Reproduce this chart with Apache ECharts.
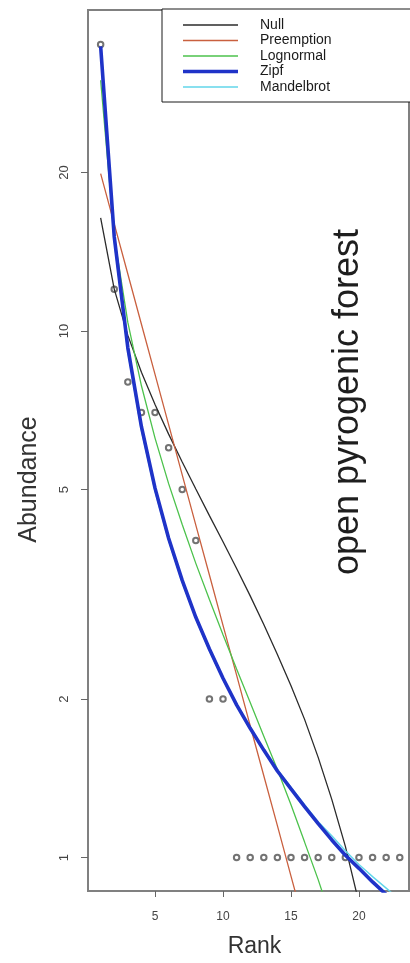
<!DOCTYPE html>
<html>
<head>
<meta charset="utf-8">
<script src="https://cdn.jsdelivr.net/npm/echarts@6/dist/echarts.min.js"></script>
<style>
  html, body { margin: 0; padding: 0; background: #fff; }
  #chart { width: 410px; height: 963px; }
</style>
</head>
<body>
<div id="chart"></div>
<script>
// Rank-abundance diagram with fitted RAD models (log abundance axis)
const ranks = [1, 2, 3, 4, 5, 6, 7, 8, 9, 10, 11, 12, 13, 14, 15, 16, 17, 18, 19, 20, 21, 22, 23];
const abundance = [35, 12, 8, 7, 7, 6, 5, 4, 2, 2, 1, 1, 1, 1, 1, 1, 1, 1, 1, 1, 1, 1, 1];

// fitted abundances of each model, one value per rank
const fitNull = [16.40, 12.01, 9.81, 8.35, 7.25, 6.37, 5.64, 5.01, 4.46, 3.98, 3.54, 3.14, 2.77, 2.43, 2.12, 1.83, 1.55, 1.29, 1.05, 0.82, 0.60, 0.39, 0.19];
const fitPreemption = [19.90, 15.98, 12.83, 10.30, 8.27, 6.64, 5.33, 4.28, 3.44, 2.76, 2.22, 1.78, 1.43, 1.15, 0.922, 0.741, 0.595, 0.478, 0.383, 0.308, 0.247, 0.199, 0.159];
const fitLognormal = [29.93, 15.12, 10.38, 7.87, 6.26, 5.13, 4.29, 3.62, 3.09, 2.65, 2.28, 1.97, 1.70, 1.47, 1.26, 1.07, 0.908, 0.759, 0.622, 0.494, 0.375, 0.257, 0.130];
const fitZipf = [34.70, 15.10, 9.29, 6.58, 5.03, 4.04, 3.36, 2.86, 2.49, 2.19, 1.95, 1.76, 1.60, 1.46, 1.35, 1.25, 1.16, 1.08, 1.01, 0.954, 0.899, 0.851, 0.806];
const fitMandelbrot = [34.20, 14.80, 9.12, 6.47, 4.96, 4.00, 3.33, 2.84, 2.47, 2.18, 1.95, 1.76, 1.60, 1.47, 1.36, 1.26, 1.17, 1.10, 1.03, 0.97, 0.92, 0.875, 0.832];

const modelNames = ['Null', 'Preemption', 'Lognormal', 'Zipf', 'Mandelbrot'];
const xTicks = [5, 10, 15, 20];
const yTicks = [1, 2, 5, 10, 20];
const siteLabel = 'open pyrogenic forest';

const FONT = '"Liberation Sans", Arial, Helvetica, sans-serif';
const X_MIN = 0.07, X_MAX = 23.68;
const Y_MIN = 0.864, Y_MAX = 40.7;

const modelStyles = {
  Null:       { color: '#2b2b2b', width: 1.3, icon: 1.3 },
  Preemption: { color: '#c9603f', width: 1.3, icon: 1.6 },
  Lognormal:  { color: '#4cc24c', width: 1.3, icon: 1.6 },
  Zipf:       { color: '#1f33c8', width: 3.6, icon: 3.6 },
  Mandelbrot: { color: '#62d6ea', width: 1.4, icon: 1.6 }
};
const modelFits = {
  Null: fitNull, Preemption: fitPreemption, Lognormal: fitLognormal,
  Zipf: fitZipf, Mandelbrot: fitMandelbrot
};
// Mandelbrot is painted beneath Zipf
const drawOrder = ['Null', 'Preemption', 'Lognormal', 'Mandelbrot', 'Zipf'];

const pairs = arr => ranks.map((r, i) => [r, arr[i]]);
const yTickPos = yTicks.map(v => Math.log10(v));

const chart = echarts.init(document.getElementById('chart'), null, { renderer: 'canvas' });

const option = {
  animation: false,
  backgroundColor: '#ffffff',
  textStyle: { fontFamily: FONT },
  grid: {
    left: 88, right: 1, top: 10, bottom: 72,
    show: true, borderColor: '#808080', borderWidth: 2,
    backgroundColor: 'transparent',
    containLabel: false, outerBoundsMode: 'none'
  },
  legend: {
    orient: 'vertical',
    left: 162, top: 9,
    padding: [9, 200, 8, 21],
    backgroundColor: '#ffffff',
    borderColor: '#1a1a1a', borderWidth: 1,
    itemWidth: 55, itemHeight: 4, itemGap: 1.5,
    itemStyle: { borderWidth: 0 },
    selectedMode: false,
    textStyle: { fontFamily: FONT, fontSize: 14, lineHeight: 14, color: '#1a1a1a', padding: [0, 0, 0, 17] },
    data: modelNames.map(n => ({
      name: n,
      icon: 'path://M0 0H55V' + modelStyles[n].icon + 'H0Z',
      itemStyle: { color: modelStyles[n].color, borderWidth: 0 }
    }))
  },
  xAxis: {
    type: 'value', min: X_MIN, max: X_MAX,
    name: 'Rank', nameLocation: 'middle', nameGap: 44,
    nameTextStyle: { fontFamily: FONT, fontSize: 23, color: '#333', padding: [0, 0, 0, 12] },
    axisLine: { show: false, onZero: false },
    splitLine: { show: false },
    axisTick: { show: true, length: 6, customValues: xTicks, lineStyle: { color: '#666', width: 1 } },
    axisLabel: { customValues: xTicks, margin: 20, fontSize: 12, color: '#444', fontFamily: FONT }
  },
  yAxis: [
    {
      type: 'log', logBase: 10, min: Y_MIN, max: Y_MAX,
      axisLine: { show: false, onZero: false }, axisTick: { show: false },
      axisLabel: { show: false }, splitLine: { show: false }
    },
    {
      // tick/label scale in log10 units, aligned with the log axis above
      type: 'value', position: 'left',
      min: Math.log10(Y_MIN), max: Math.log10(Y_MAX),
      name: 'Abundance', nameLocation: 'middle', nameGap: 46,
      nameTextStyle: { fontFamily: FONT, fontSize: 25, color: '#333', padding: [0, 58, 0, 0] },
      axisLine: { show: false, onZero: false }, splitLine: { show: false },
      axisTick: { show: true, length: 7, customValues: yTickPos, lineStyle: { color: '#666', width: 1 } },
      axisLabel: {
        customValues: yTickPos, rotate: 90, margin: 17,
        fontSize: 13, color: '#444', fontFamily: FONT,
        formatter: v => {
          const hit = yTicks.find(t => Math.abs(Math.log10(t) - v) < 1e-6);
          return hit === undefined ? '' : String(hit);
        }
      }
    }
  ],
  graphic: [{
    type: 'text',
    x: 348, y: 402,
    rotation: Math.PI / 2,
    style: {
      text: siteLabel,
      font: '36px ' + FONT,
      fill: '#1e1e1e',
      align: 'center', verticalAlign: 'middle',
      textAlign: 'center', textVerticalAlign: 'middle'
    }
  }],
  series: [
    {
      type: 'scatter', name: 'Observed',
      yAxisIndex: 0,
      data: pairs(abundance),
      symbol: 'emptyCircle', symbolSize: 5.5,
      itemStyle: { color: '#505050', borderColor: '#505050', borderWidth: 1.1 },
      z: 2
    }
  ].concat(drawOrder.map(n => ({
    type: 'line', name: n,
    yAxisIndex: 0,
    data: pairs(modelFits[n]),
    symbol: 'none', showSymbol: false,
    smooth: false, clip: true,
    lineStyle: { color: modelStyles[n].color, width: modelStyles[n].width },
    itemStyle: { color: modelStyles[n].color },
    emphasis: { disabled: true },
    z: 3
  })))
};

chart.setOption(option);
</script>
</body>
</html>
